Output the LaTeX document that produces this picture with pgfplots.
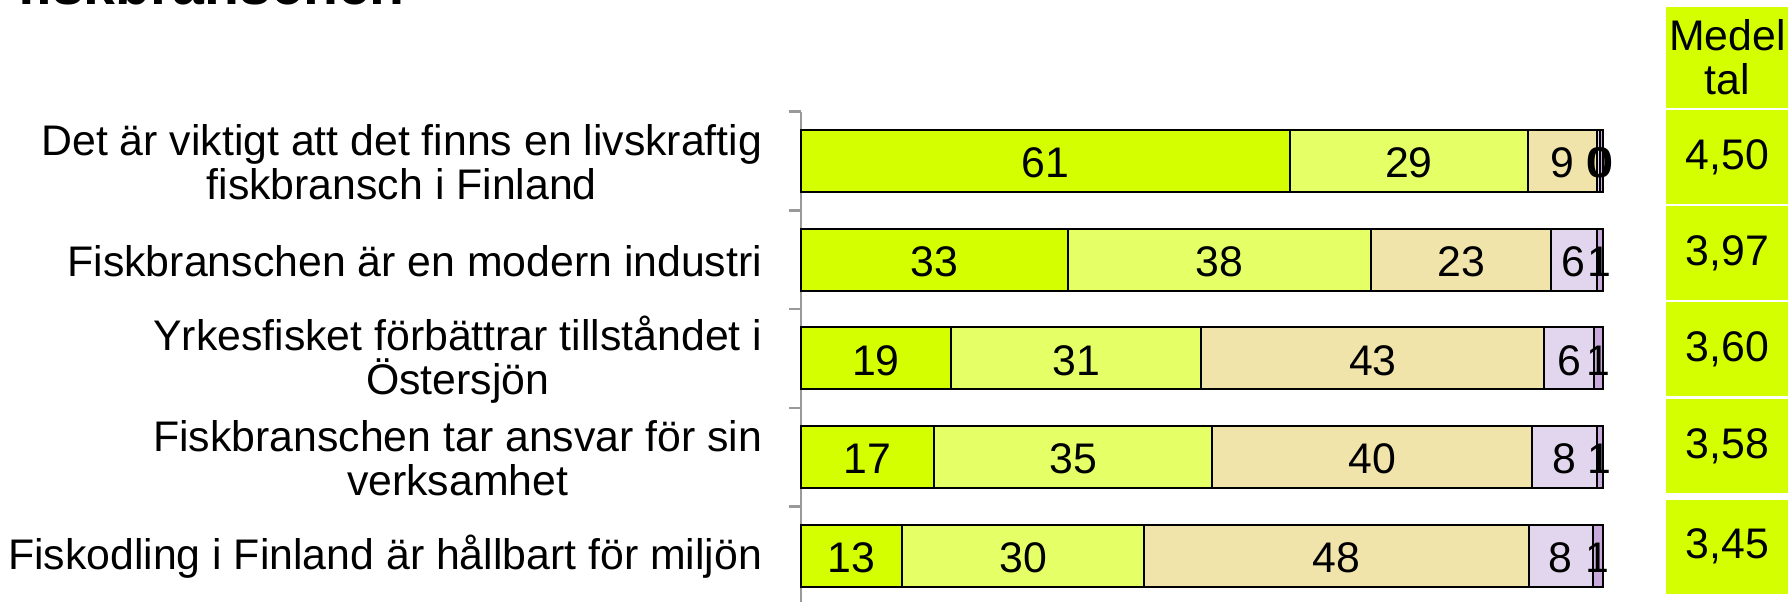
\documentclass[border=0pt]{standalone}
\usepackage{pgfplots}
\pgfplotsset{compat=1.18}
\usepackage{pgfplotstable}
\usepackage{fontspec}
\setmainfont{Liberation Sans}

\definecolor{cA}{HTML}{D4FF00}
\definecolor{cB}{HTML}{E5FF66}
\definecolor{cC}{HTML}{F0E4AA}
\definecolor{cD}{HTML}{E2D6EE}
\definecolor{cE}{HTML}{C8AADC}
\newcommand\lbl{\fontsize{10.7}{11}\selectfont}

% segment widths read off the bars, labels as printed
\pgfplotstableread{
y a b c d e la lb lc ld le
0 61.0 29.6 8.7 0.35 0.35 61 29 9 0 0
1 33.3 37.8 22.4 5.7 0.8 33 38 23 6 1
2 18.7 31.2 42.8 6.2 1.1 19 31 43 6 1
3 16.6 34.7 39.9 8.0 0.8 17 35 40 8 1
4 12.6 30.2 48.0 7.9 1.3 13 30 48 8 1
}\data

\pgfplotstableread{
x y m
115.5 -0.04 4,50
115.5 0.932 3,97
115.5 1.904 3,60
115.5 2.891 3,58
115.5 3.904 3,45
}\means

\pgfplotsset{
  seg/.style={fill=#1, draw=black, line width=0.5pt,
    nodes near coords, point meta=explicit symbolic,
    nodes near coords style={anchor=center, font=\lbl, text=black, yshift=-0.5pt}},
  base/.style={at={(0,0)}, anchor=north west,
    x=2.005pt, y=24.6875pt,
    xmin=0, xmax=100, ymin=-0.5, ymax=4.5,
    y dir=reverse, enlargelimits=false, clip=false},
}

\begin{document}
\begin{tikzpicture}
\begin{axis}[base,
  xbar stacked, bar width=15.5pt,
  axis x line=none,
  axis y line*=left,
  axis line style={draw=gray!80, line width=0.6pt},
  ytick={-0.5,0.5,...,4.5}, yticklabels={,,,,,},
  tick style={draw=gray!80, line width=0.6pt},
  major tick length=3pt, tick align=outside,
  yticklabel style={align=center, font=\lbl, inner sep=0pt, xshift=-9.5pt, yshift=-0.3pt},
  extra y ticks={0,1,2,3,4},
  extra y tick labels={{Det är viktigt att det finns en livskraftig\\fiskbransch i Finland},
    {Fiskbranschen är en modern industri},
    {Yrkesfisket förbättrar tillståndet i\\Östersjön},
    {Fiskbranschen tar ansvar för sin\\verksamhet},
    {Fiskodling i Finland är hållbart för miljön}},
  extra y tick style={major tick length=0pt},
]
\addplot[seg=cA] table[x=a, y=y, meta=la]{\data};
\addplot[seg=cB] table[x=b, y=y, meta=lb]{\data};
\addplot[seg=cC] table[x=c, y=y, meta=lc]{\data};
\addplot[seg=cD] table[x=d, y=y, meta=ld]{\data};
\addplot[seg=cE] table[x=e, y=y, meta=le]{\data};
\end{axis}

\begin{axis}[base, hide axis]
\addplot[draw=none, nodes near coords, point meta=explicit symbolic,
  nodes near coords style={anchor=center, fill=cA, minimum width=30.5pt,
    minimum height=23.5pt, inner sep=0pt, font=\lbl, text=black}]
  table[x=x, y=y, meta=m]{\means};
\node[fill=cA, minimum width=30.5pt, minimum height=25.25pt, align=center,
  inner sep=0pt, font=\lbl] at (axis cs:115.5,-1.048) {Medel\\tal};
\end{axis}

\node[anchor=base west, font=\fontsize{14.3}{16}\selectfont\bfseries]
  at (-199.5pt,26.9pt) {fiskbranschen};

\pgfresetboundingbox
\path[use as bounding box] (-200.25pt,-122.35pt) rectangle (246.75pt,27.9pt);
\end{tikzpicture}
\end{document}
